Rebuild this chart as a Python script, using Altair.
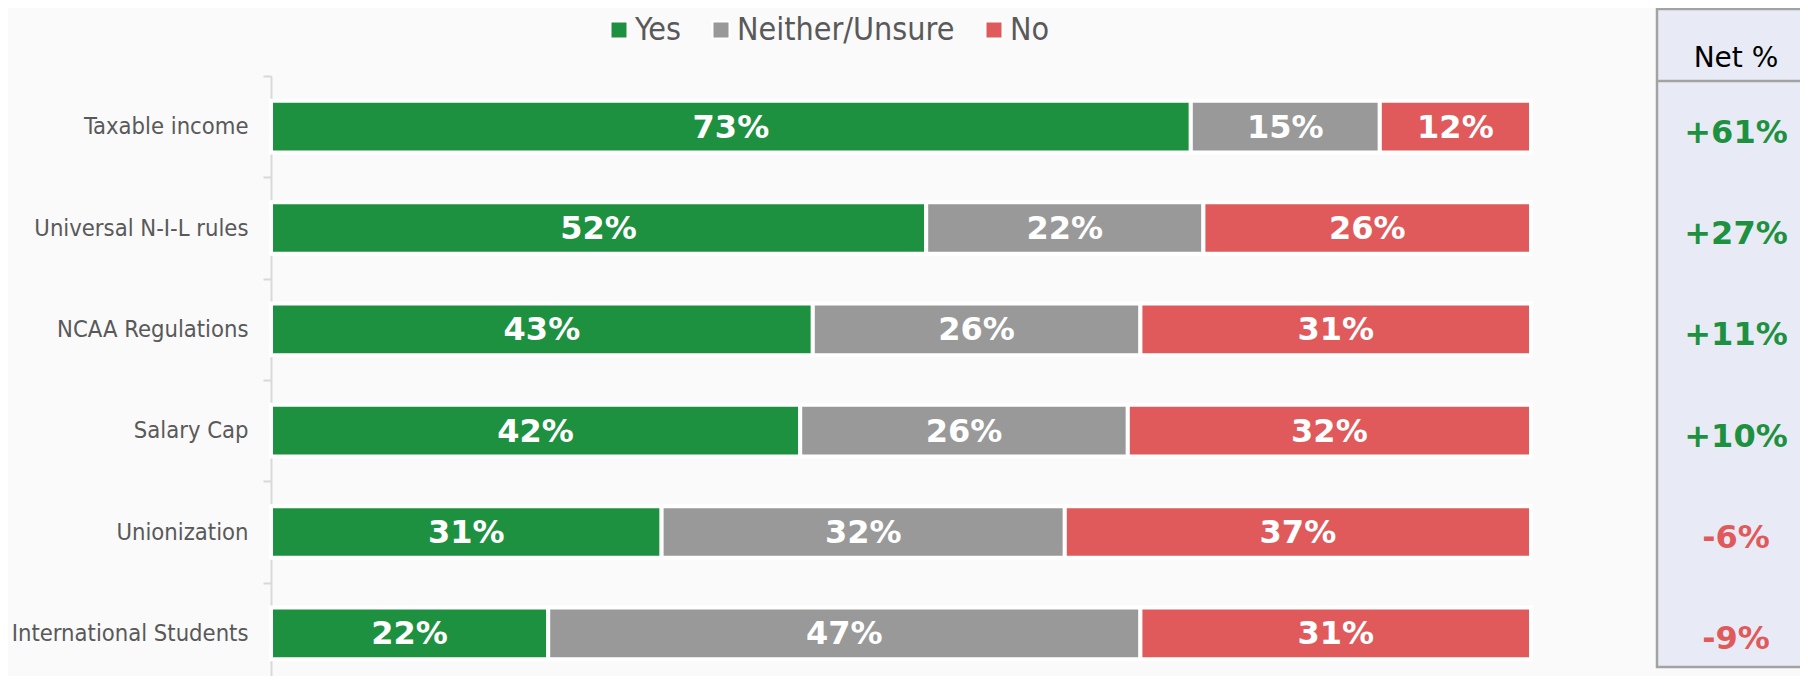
import altair as alt
import pandas as pd

categories = ["Taxable income", "Universal N-I-L rules", "NCAA Regulations",
              "Salary Cap", "Unionization", "International Students"]
responses = ["Yes", "Neither/Unsure", "No"]
yes_vals = [73, 52, 43, 42, 31, 22]
neither_vals = [15, 22, 26, 26, 32, 47]
no_vals = [12, 26, 31, 32, 37, 31]
net_labels = ["+61%", "+27%", "+11%", "+10%", "-6%", "-9%"]
net_sign = ["pos", "pos", "pos", "pos", "neg", "neg"]

GREEN = "#1e9140"
GRAY = "#999999"
RED = "#e05a5b"
COND = "DejaVu Sans Condensed, Liberation Sans Narrow, DejaVu Sans, sans-serif"

rows = []
for i, c in enumerate(categories):
    start = 0.0
    for r, vals in zip(responses, [yes_vals, neither_vals, no_vals]):
        v = vals[i] / 100.0
        rows.append({"category": c, "response": r, "start": start,
                     "end": start + v, "mid": start + v / 2,
                     "label": f"{vals[i]}%"})
        start += v
bars_df = pd.DataFrame(rows)
net_df = pd.DataFrame({"category": categories, "net": net_labels, "sign": net_sign,
                       "xc": [1.1627] * len(categories)})

xscale = alt.Scale(domain=[0, 1], nice=False, zero=False)
yscale = alt.Scale(domain=categories, range=[0, 608],
                   paddingInner=0.49, paddingOuter=0.245)

STEP = 608 / 6.0

y_enc = alt.Y("category:N", scale=yscale, title=None,
              axis=alt.Axis(labelFont=COND, labelFontSize=23.6, labelColor="#595959",
                            domainColor="#d9d9d9", domainWidth=2,
                            tickColor="#d9d9d9", tickWidth=2, tickSize=8,
                            tickOffset=-STEP / 2, labelOffset=STEP / 2,
                            labelPadding=15, labelLimit=400))

bars = alt.Chart(bars_df).mark_bar(stroke="white", strokeWidth=4).encode(
    x=alt.X("start:Q", scale=xscale, axis=None),
    x2="end:Q",
    y=y_enc,
    color=alt.Color("response:N",
                    scale=alt.Scale(domain=responses, range=[GREEN, GRAY, RED]),
                    legend=alt.Legend(orient="none", legendX=332, legendY=-62,
                                      direction="horizontal", title=None,
                                      symbolType="square", symbolSize=289,
                                      symbolStrokeColor="white", symbolStrokeWidth=2,
                                      labelFont=COND, labelFontSize=32,
                                      labelColor="#595959", columnPadding=23,
                                      labelOffset=0, labelLimit=400)),
)

bar_text = alt.Chart(bars_df).mark_text(
    font="DejaVu Sans", fontWeight="bold", fontSize=32, color="white",
    baseline="middle", align="center", dy=1
).encode(
    x=alt.X("mid:Q", scale=xscale, axis=None),
    y=alt.Y("category:N", scale=yscale),
    text="label:N",
)

panel_df = pd.DataFrame({"x0": [1.1], "x1": [1.35], "head": ["Net %"], "xc": [1.1627]})

panel_box = alt.Chart(panel_df).mark_rect(
    fill="#e8ebf5", stroke="#a3a3a3", strokeWidth=2.5
).encode(
    x=alt.X("x0:Q", scale=xscale, axis=None), x2="x1:Q",
    y=alt.value(-67), y2=alt.value(591),
)

panel_line = alt.Chart(panel_df).mark_rule(color="#a3a3a3", strokeWidth=2.5).encode(
    x=alt.X("x0:Q", scale=xscale, axis=None), x2="x1:Q", y=alt.value(5),
)

panel_head = alt.Chart(panel_df).mark_text(
    font="DejaVu Sans", fontSize=28, color="black", baseline="middle", align="center"
).encode(
    x=alt.X("xc:Q", scale=xscale, axis=None), y=alt.value(-17), text="head:N",
)

net_text = alt.Chart(net_df).mark_text(
    font="DejaVu Sans", fontWeight="bold", fontSize=32, baseline="middle",
    align="center", dy=6
).encode(
    x=alt.X("xc:Q", scale=xscale, axis=None),
    y=alt.Y("category:N", scale=yscale),
    text="net:N",
    color=alt.condition("datum.sign == 'pos'", alt.value(GREEN), alt.value(RED)),
)

chart = alt.layer(panel_box, panel_line, panel_head, bars, bar_text, net_text).properties(
    width=1260, height=600,
    autosize=alt.AutoSizeParams(type="none"),
    padding={"left": 263, "top": 68, "right": 269, "bottom": 0},
    background="#fafafa",
).configure_view(stroke=None)

chart.save("out.html", embed_options={"renderer": "svg", "actions": False})
